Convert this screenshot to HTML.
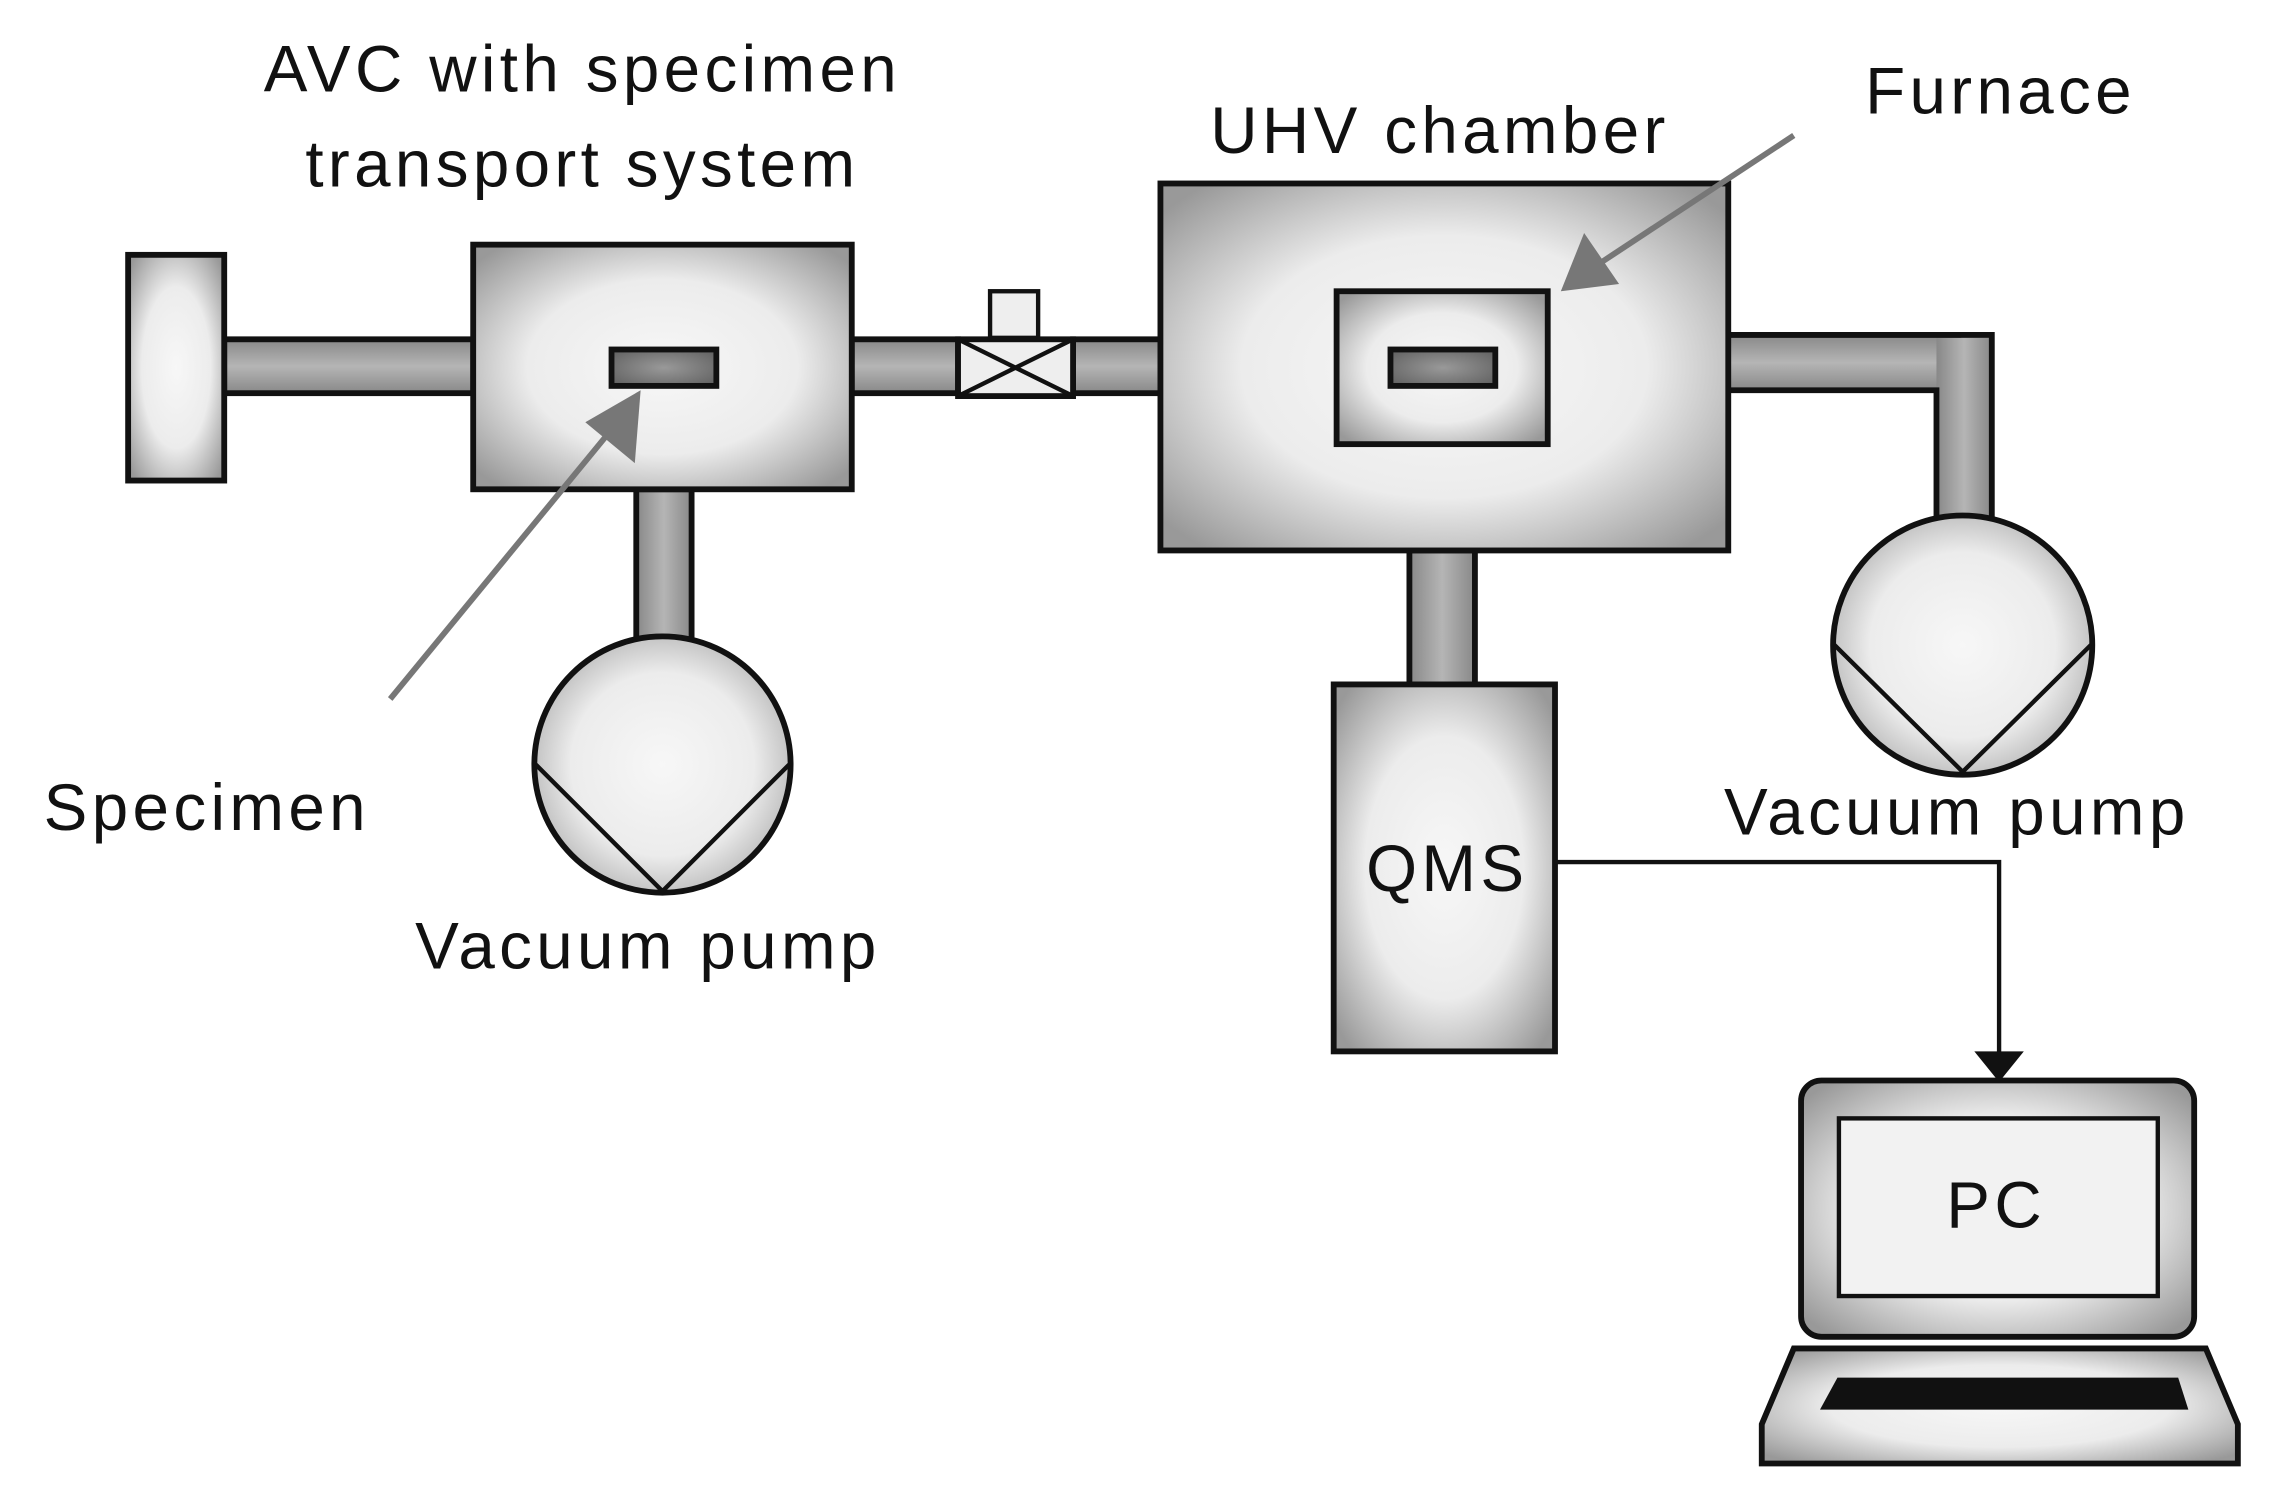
<!DOCTYPE html>
<html><head><meta charset="utf-8"><style>
html,body{margin:0;padding:0;background:#fff;}
svg{display:block}
text{font-family:"Liberation Sans",sans-serif;fill:#111;}
</style></head><body>
<svg width="2283" height="1497" viewBox="0 0 1568 1028" preserveAspectRatio="none" xmlns="http://www.w3.org/2000/svg">
<defs>
<radialGradient id="g" cx="50%" cy="50%" r="65%">
<stop offset="0" stop-color="#f7f7f7"/><stop offset="0.55" stop-color="#ececec"/><stop offset="1" stop-color="#999"/></radialGradient>
<linearGradient id="ph" x1="0" y1="0" x2="0" y2="1"><stop offset="0" stop-color="#888"/><stop offset="0.5" stop-color="#b5b5b5"/><stop offset="1" stop-color="#888"/></linearGradient>
<linearGradient id="pv" x1="0" y1="0" x2="1" y2="0"><stop offset="0" stop-color="#888"/><stop offset="0.5" stop-color="#b5b5b5"/><stop offset="1" stop-color="#888"/></linearGradient>
<radialGradient id="bar" cx="50%" cy="50%" r="60%"><stop offset="0" stop-color="#999"/><stop offset="1" stop-color="#666"/></radialGradient>
</defs>
<g stroke="#111" stroke-width="4">
<rect x="154" y="233" width="171" height="37" fill="url(#ph)"/>
<rect x="88" y="175" width="66" height="155" fill="url(#g)"/>
<rect x="585" y="233" width="73" height="37" fill="url(#ph)"/>
<rect x="737" y="233" width="60" height="37" fill="url(#ph)"/>
<rect x="658" y="233" width="79" height="39" fill="#eee"/>
<path d="M658 233 L737 272 M737 233 L658 272" fill="none" stroke-width="3"/>
<rect x="680" y="200" width="33" height="32" fill="#eee" stroke-width="3"/>
<rect x="437" y="336" width="38" height="106" fill="url(#pv)"/>
<rect x="325" y="168" width="260" height="168" fill="url(#g)"/>
<rect x="420" y="240" width="72" height="25" fill="url(#bar)"/>
<circle cx="455" cy="525" r="88" fill="url(#g)"/>
<path d="M368 525 L455 612 L542 525" fill="none" stroke-width="3"/>
<rect x="1187" y="230" width="160" height="38" fill="url(#ph)" stroke="none"/>
<rect x="1330" y="232" width="38" height="126" fill="url(#pv)" stroke="none"/>
<path d="M1187 230 H1368 V358 M1330 358 V268 H1187" fill="none"/>
<rect x="968" y="378" width="45" height="94" fill="url(#pv)"/>
<rect x="797" y="126" width="390" height="252" fill="url(#g)"/>
<rect x="918" y="200" width="145" height="105" fill="url(#g)"/>
<rect x="955" y="240" width="72" height="25" fill="url(#bar)"/>
<circle cx="1348" cy="443" r="89" fill="url(#g)"/>
<path d="M1260 443 L1348 530 L1436 443" fill="none" stroke-width="3"/>
<rect x="916" y="470" width="152" height="252" fill="url(#g)"/>
<path d="M1068 592 H1373 V725" fill="none" stroke-width="3"/>
<rect x="1237" y="742" width="270" height="176" rx="14" fill="url(#g)"/>
<rect x="1263" y="768" width="219" height="122" fill="#f2f2f2" stroke-width="3"/>
<path d="M1232 926 H1515 L1537 978 V1005 H1210 V978 Z" fill="url(#g)"/>
<path d="M1262 946 H1496 L1503 968 H1250 Z" fill="#111" stroke="none"/>
</g>
<polygon points="1356,722 1390,722 1373,743" fill="#111"/>
<g stroke="#777" stroke-width="4" fill="#777">
<line x1="268" y1="480" x2="420" y2="295"/>
<line x1="1232" y1="93" x2="1100" y2="180"/>
</g>
<polygon points="440,268 436,318 402,290" fill="#777"/>
<polygon points="1072,200 1088,160 1112,195" fill="#777"/>
<g font-size="45" letter-spacing="3">
<text x="400" y="63" text-anchor="middle">AVC with specimen</text>
<text x="400" y="128" text-anchor="middle">transport system</text>
<text x="989" y="105" text-anchor="middle">UHV chamber</text>
<text x="1374" y="78" text-anchor="middle">Furnace</text>
<text x="30" y="570">Specimen</text>
<text x="445" y="665" text-anchor="middle">Vacuum pump</text>
<text x="1344" y="573" text-anchor="middle">Vacuum pump</text>
<text x="994" y="612" text-anchor="middle">QMS</text>
<text x="1371" y="843" text-anchor="middle">PC</text>
</g>
</svg>
</body></html>
